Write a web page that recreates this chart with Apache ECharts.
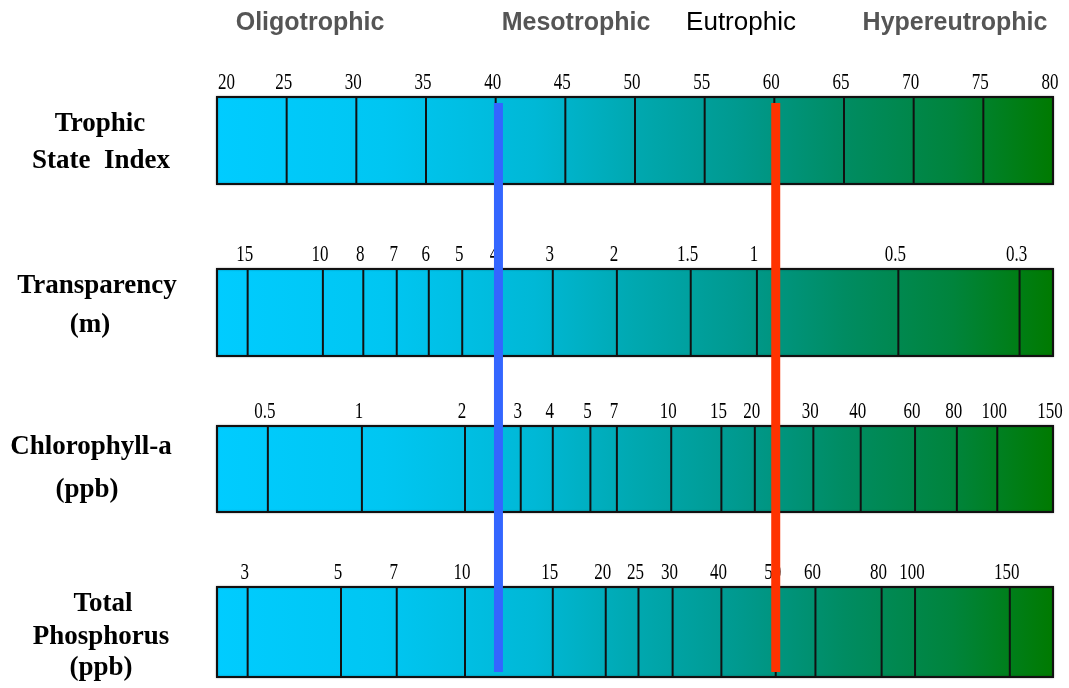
<!DOCTYPE html>
<html>
<head>
<meta charset="utf-8">
<script src="https://cdn.jsdelivr.net/npm/echarts@6/dist/echarts.min.js"></script>
<style>html,body{margin:0;padding:0;background:#fff}#c{width:1069px;height:688px}</style>
</head>
<body>
<div id="c"></div>
<script>
// ---- data (positions expressed on the Trophic State Index scale) ----
const tsiLabels = ['20','25','30','35','40','45','50','55','60','65','70','75','80'];
const tsiPos    = [20,25,30,35,40,45,50,55,60,65,70,75,80];

const sdLabels = ['15','10','8','7','6','5','4','3','2','1.5','1','0.5','0.3'];
const sdPos    = [22.2,27.6,30.5,32.9,35.2,37.6,40.1,44.1,48.7,54.0,58.75,68.9,77.6];

const chlLabels = ['0.5','1','2','3','4','5','7','10','15','20','30','40','60','80','100','150'];
const chlPos    = [23.65,30.4,37.8,41.8,44.1,46.8,48.7,52.6,56.2,58.6,62.8,66.2,70.1,73.1,76.0,80];

const tpLabels = ['3','5','7','10','15','20','25','30','40','50','60','80','100','150'];
const tpPos    = [22.2,28.9,32.9,37.8,44.1,47.9,50.25,52.7,56.2,60.1,62.95,67.7,70.1,76.9];

const markerTSI = [40.2, 60.1];
const markerColors = ['#3366FF', '#FF3300'];

const stateNames = ['Oligotrophic','Mesotrophic','Eutrophic','Hypereutrophic'];
const rowTitles = [['Trophic','State  Index'],['Transparency','(m)'],['Chlorophyll-a','(ppb)'],['Total','Phosphorus','(ppb)']];

// ---- chart ----
const chart = echarts.init(document.getElementById('c'));
const gridTops = [97, 269, 426, 587];
const gridHeights = [87, 87, 86, 90];
const grids = gridTops.map((t,i)=>({left:217, width:836, top:t, height:gridHeights[i]}));
grids.push({left:217, width:836, top:103, height:569});

const xAxes = grids.map((g,i)=>({gridIndex:i, type:'value', min:20, max:80, show:false}));
const yAxes = grids.map((g,i)=>({gridIndex:i, type:'value', min:0, max:1, show:false}));

function makeGradient(){
  return new echarts.graphic.LinearGradient(0,0,1,0,[
    {offset:0, color:'#00CCFF'},
    {offset:0.2, color:'#00C6F2'},
    {offset:0.38, color:'#00B8D6'},
    {offset:0.5, color:'#00A8B0'},
    {offset:0.62, color:'#009A90'},
    {offset:0.75, color:'#008C62'},
    {offset:0.88, color:'#00843C'},
    {offset:1, color:'#007A00'}
  ]);
}

function barSeries(i){
  return {
    type:'custom', xAxisIndex:i, yAxisIndex:i, z:1, silent:true,
    data:[[20,80]],
    renderItem:function(params, api){
      const p0 = api.coord([api.value(0),1]);
      const p1 = api.coord([api.value(1),0]);
      return {type:'rect', shape:{x:p0[0], y:p0[1], width:p1[0]-p0[0], height:p1[1]-p0[1]},
        style:{fill:makeGradient(), stroke:'#111', lineWidth:2, shadowBlur:2, shadowColor:'rgba(0,0,0,0.35)'}};
    }
  };
}

function tickSeries(i, pos, labels){
  return {
    type:'custom', xAxisIndex:i, yAxisIndex:i, z:2, silent:true,
    data: pos.map((p,k)=>[p,k]),
    renderItem:function(params, api){
      const x = api.value(0);
      const k = api.value(1);
      const top = api.coord([x,1]);
      const bot = api.coord([x,0]);
      let tx = top[0]-3, align='center';
      if (x <= 20) { tx = top[0]+1; align='left'; }
      return {type:'group', children:[
        {type:'line', shape:{x1:top[0], y1:top[1], x2:bot[0], y2:bot[1]}, style:{stroke:'#111', lineWidth:2}},
        {type:'text', x:tx, y:top[1]-2, scaleY:1.4,
          style:{text:labels[k], align:align, verticalAlign:'bottom', font:'17px "Liberation Serif"', fill:'#000'}}
      ]};
    }
  };
}

const series = [
  barSeries(0), barSeries(1), barSeries(2), barSeries(3),
  tickSeries(0, tsiPos, tsiLabels),
  tickSeries(1, sdPos, sdLabels),
  tickSeries(2, chlPos, chlLabels),
  tickSeries(3, tpPos, tpLabels),
  {
    type:'custom', xAxisIndex:4, yAxisIndex:4, z:10, silent:true,
    data: markerTSI.map((p,k)=>[p,k]),
    renderItem:function(params, api){
      const x = api.value(0);
      const top = api.coord([x,1]);
      const bot = api.coord([x,0]);
      return {type:'line', shape:{x1:top[0], y1:top[1], x2:bot[0], y2:bot[1]},
        style:{stroke:markerColors[api.value(1)], lineWidth:9}};
    }
  }
];

// header and row titles
const headerX = [310, 576, 741, 955];
const headerStyle = [
  {font:'bold 25px "Liberation Sans"', fill:'#555'},
  {font:'bold 25px "Liberation Sans"', fill:'#555'},
  {font:'26px "Liberation Sans"', fill:'#000'},
  {font:'bold 25px "Liberation Sans"', fill:'#555'}
];
const graphics = [];
stateNames.forEach((n,i)=>{
  graphics.push({type:'text', x:headerX[i], y:23,
    style:Object.assign({text:n, align:'center', verticalAlign:'middle'}, headerStyle[i])});
});
const rowLinePos = [
  [[100,124],[101,161]],
  [[97,286],[90,325]],
  [[91,447],[87,490]],
  [[103,604],[101,637],[101,668]]
];
rowTitles.forEach((lines,r)=>{
  lines.forEach((t,j)=>{
    graphics.push({type:'text', x:rowLinePos[r][j][0], y:rowLinePos[r][j][1],
      style:{text:t, align:'center', verticalAlign:'middle', font:'bold 27px "Liberation Serif"', fill:'#000'}});
  });
});

chart.setOption({
  animation:false,
  backgroundColor:'#fff',
  grid:grids, xAxis:xAxes, yAxis:yAxes,
  series:series,
  graphic:graphics
});
</script>
</body>
</html>
